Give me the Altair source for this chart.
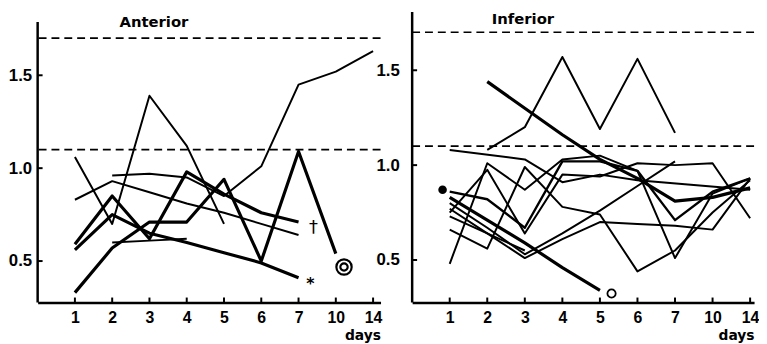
import json
import altair as alt
import pandas as pd

# ---- data ----
days = ["1", "2", "3", "4", "5", "6", "7", "10", "14"]
ref_levels = [1.1, 1.7]
y_ticks = [0.5, 1.0, 1.5]

# Anterior panel (values per day, None = no measurement)
ant_s1 = [1.06, 0.70, 1.39, 1.12, 0.70, None, None, None, None]
ant_s2 = [0.83, 0.93, 0.87, 0.81, 0.76, 0.70, 0.64, None, None]
ant_s3 = [None, 0.96, 0.97, 0.95, 0.85, 1.01, 1.45, 1.52, 1.63]
ant_s4 = [None, 0.60, 0.61, 0.62, None, None, None, None, None]
ant_s5 = [0.59, 0.85, 0.62, 0.98, 0.86, 0.76, 0.71, None, None]
ant_s6 = [0.56, 0.75, 0.65, 0.60, 0.545, 0.49, 0.41, None, None]
ant_s7 = [0.33, 0.57, 0.71, 0.71, 0.94, 0.50, 1.09, 0.54, None]
ant_weights = ["thin", "thin", "thin", "thin", "thick", "thick", "thick"]

# Inferior panel
inf_s1 = [None, 1.08, 1.20, 1.57, 1.19, 1.56, 1.17, None, None]
inf_s2 = [None, 1.44, 1.30, 1.16, 1.03, 0.93, 0.81, 0.83, 0.88]
inf_s3 = [1.08, None, 1.03, 0.91, 0.95, 0.92, None, None, 0.87]
inf_s4 = [0.86, 0.82, 0.67, 1.02, 1.02, 0.97, 0.71, 0.86, 0.93]
inf_s5 = [0.48, 1.01, 0.87, 1.03, 1.05, 0.97, 0.51, 0.85, 0.93]
inf_s6 = [0.75, 0.975, 0.64, 0.95, 0.94, 1.01, 1.00, 1.01, 0.72]
inf_s7 = [0.73, 0.64, 0.55, None, None, None, None, None, None]
inf_s8 = [0.83, 0.71, 0.59, 0.46, 0.34, None, None, None, None]
inf_s9 = [0.80, 0.67, 0.53, 0.64, 0.76, 0.89, 1.02, None, None]
inf_s10 = [0.77, 0.64, 0.51, 0.61, 0.70, 0.69, 0.68, 0.66, 0.93]
inf_s11 = [0.66, 0.56, 0.99, 0.78, 0.74, 0.44, 0.55, 0.75, 0.92]
inf_weights = ["thin", "thick", "thin", "mid", "thin", "thin", "thin",
               "thick", "thin", "thin", "thin"]

# symbols (x as day-position index, y value)
ant_dagger = (7.4, 0.676)
ant_star = (7.32, 0.378)
ant_target = (8.22, 0.468)
inf_dot = (0.81, 0.87)
inf_ring = (5.31, 0.323)

# panel labels
ant_title = ("Anterior", 3.12, 1.788)
inf_title = ("Inferior", 2.95, 1.771)

FONT = "Liberation Sans"
H = 294
WIDTHS = {"thin": 2.0, "mid": 2.4, "thick": 3.2}


def series_df(series, weights):
    rows = []
    for k, (vals, w) in enumerate(zip(series, weights)):
        for i, v in enumerate(vals):
            if v is not None:
                rows.append({"s": k, "idx": i + 1, "v": v, "w": w})
    return pd.DataFrame(rows)


def panel(series, weights, ydom, xmax, width, label_pad, axis_top, title, syms):
    df = series_df(series, weights)
    xscale = alt.Scale(domain=[0, xmax], nice=False, zero=False)
    yscale = alt.Scale(domain=ydom, nice=False, zero=False)
    xaxis = alt.Axis(
        values=list(range(1, len(days) + 1)),
        labelExpr=f"{json.dumps(days)}[datum.value - 1]",
        ticks=False, grid=False, domain=True, domainWidth=2.5, domainColor="black",
        labelFont=FONT, labelFontSize=16, labelFontWeight="bold", labelColor="black",
        labelPadding=7, title="days", titleAnchor="end", titleFont="DejaVu Sans",
        titleFontSize=14, titleFontWeight="bold", titlePadding=3, titleColor="black",
    )
    yaxis = alt.Axis(
        values=y_ticks, format=".1f", ticks=False, grid=False, domain=False,
        labelFont=FONT, labelFontSize=17, labelFontWeight="bold", labelColor="black",
        labelPadding=label_pad, title=None,
    )
    X = alt.X("idx:Q", scale=xscale, axis=xaxis)
    Y = alt.Y("v:Q", scale=yscale, axis=yaxis)

    line_layers = []
    for wname, sw in WIDTHS.items():
        if wname in weights:
            line_layers.append(
                alt.Chart(df).transform_filter(alt.datum.w == wname).mark_line(
                    color="black", strokeWidth=sw, strokeJoin="round").encode(
                    x=X, y=Y, detail="s:N"))
    dashed = alt.Chart(pd.DataFrame({"v": ref_levels})).mark_rule(
        color="black", strokeDash=[8, 5], strokeWidth=1.6).encode(y=Y)
    yline = alt.Chart(pd.DataFrame({"v": [ydom[0]], "v2": [axis_top]})).mark_rule(
        color="black", strokeWidth=2.5).encode(y=Y, y2="v2:Q", x=alt.value(0))
    xticks = alt.Chart(pd.DataFrame({"idx": list(range(1, len(days) + 1))})).mark_rule(
        color="black", strokeWidth=2).encode(x=X, y=alt.value(H), y2=alt.value(H - 5))
    yt = alt.Chart(pd.DataFrame({"v": y_ticks})).mark_rule(
        color="black", strokeWidth=2).encode(y=Y, x=alt.value(0), x2=alt.value(5))
    ttl = alt.Chart(pd.DataFrame({"t": [title[0]], "idx": [title[1]], "v": [title[2]]})).mark_text(
        font="DejaVu Sans", fontWeight="bold", fontSize=15, color="black",
        baseline="middle", align="center").encode(x=X, y=Y, text="t:N")
    layers = [dashed] + line_layers + [yline, xticks, yt, ttl] + syms(X, Y)
    return alt.layer(*layers).properties(width=width, height=H)


def ant_syms(X, Y):
    dag = alt.Chart(pd.DataFrame({"idx": [ant_dagger[0]], "v": [ant_dagger[1]], "t": ["†"]})).mark_text(
        color="#000000", fontSize=18, baseline="middle", font="DejaVu Sans").encode(
        x=X, y=Y, text="t:N")
    star = alt.Chart(pd.DataFrame({"idx": [ant_star[0]], "v": [ant_star[1]], "t": ["*"]})).mark_text(
        color="#000000", fontSize=16, fontWeight="bold", baseline="middle",
        font="DejaVu Sans").encode(x=X, y=Y, text="t:N")
    ring = pd.DataFrame({"idx": [ant_target[0]] * 2, "v": [ant_target[1]] * 2,
                         "sz": [240, 55]})
    r = alt.Chart(ring).mark_point(shape="circle", color="black", filled=False,
                                   strokeWidth=2.2, opacity=1).encode(
        x=X, y=Y, size=alt.Size("sz:Q", scale=None, legend=None))
    return [dag, star, r]


def inf_syms(X, Y):
    dot = alt.Chart(pd.DataFrame({"idx": [inf_dot[0]], "v": [inf_dot[1]]})).mark_point(
        shape="circle", filled=True, color="black", size=75, opacity=1).encode(x=X, y=Y)
    ring = alt.Chart(pd.DataFrame({"idx": [inf_ring[0]], "v": [inf_ring[1]]})).mark_point(
        shape="circle", filled=False, color="black", size=70, strokeWidth=1.8,
        opacity=1).encode(x=X, y=Y)
    return [dot, ring]


left = panel([ant_s1, ant_s2, ant_s3, ant_s4, ant_s5, ant_s6, ant_s7], ant_weights,
             [0.277, 0.277 + H / 188], 9.2, 347, 6, 1.787, ant_title, ant_syms)
right = panel([inf_s1, inf_s2, inf_s3, inf_s4, inf_s5, inf_s6, inf_s7, inf_s8, inf_s9,
               inf_s10, inf_s11], inf_weights,
              [0.276, 0.276 + H / 192], 9.105, 346, 13, 0.276 + H / 192, inf_title, inf_syms)

chart = alt.hconcat(left, right, spacing=32, bounds="flush").properties(
    padding={"left": 0, "top": 0, "right": 0, "bottom": 0},
    background="white",
).configure_view(stroke=None)

chart.save("out.html", embed_options={"renderer": "svg", "actions": False})
